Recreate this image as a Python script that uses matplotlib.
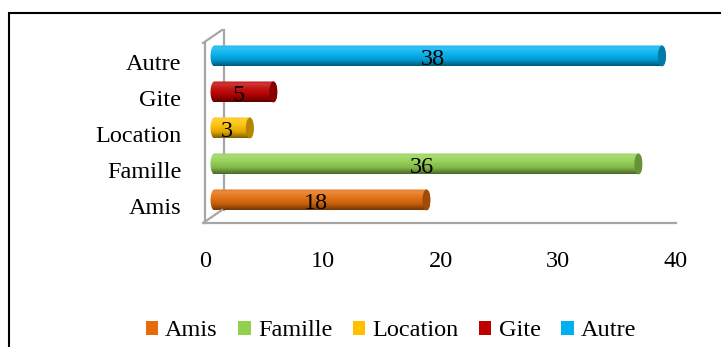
import numpy as np
import matplotlib.pyplot as plt
import matplotlib.transforms as mtransforms
from matplotlib.patches import Ellipse, PathPatch, Rectangle, Patch
from matplotlib.path import Path
from matplotlib.colors import to_rgb

plt.rcParams["font.family"] = ["Liberation Serif", "DejaVu Serif"]

categories = ["Amis", "Famille", "Location", "Gite", "Autre"]
values = [18, 36, 3, 5, 38]
colors = ["#e46c0a", "#92d050", "#ffc000", "#c00000", "#00b0f0"]
xticks = [0, 10, 20, 30, 40]

W, H, DPI = 721, 347, 100
fig = plt.figure(figsize=(W / DPI, H / DPI), dpi=DPI)

# plot area in pixels: x 205..676, y 43..223 from top
ax = fig.add_axes([205 / W, (H - 223) / H, 471 / W, 180 / H])
ax.set_xlim(0, 40)
ax.set_ylim(-0.46, 4.54)
for s in ax.spines.values():
    s.set_visible(False)
ax.set_xticks(xticks)
ax.set_yticks(range(len(categories)))
ax.set_yticklabels(categories)
ax.tick_params(axis="both", length=0, labelsize=17.5)
ax.tick_params(axis="x", pad=20)
ax.tick_params(axis="y", pad=17)


def shift(dx, dy):
    return ax.transData + mtransforms.ScaledTranslation(dx / DPI, dy / DPI, fig.dpi_scale_trans)


grey = "#a6a6a6"
back = shift(19, 13)
# side wall and floor edge
ax.plot([0, 0], [-0.46, 4.54], color=grey, lw=1.6, clip_on=False)
ax.plot([0, 0], [-0.46, 4.54], color=grey, lw=1.6, clip_on=False, transform=back)
ax.plot([0, 40], [-0.46, -0.46], color=grey, lw=1.6, clip_on=False)
fig.add_artist(plt.Line2D([203 / W, 222 / W], [(H - 43) / H, (H - 30) / H],
                          color=grey, lw=1.6))
fig.add_artist(plt.Line2D([203 / W, 222 / W], [(H - 223) / H, (H - 210) / H],
                          color=grey, lw=1.6))


def shade(c, f):
    c = np.array(to_rgb(c))
    if f >= 0:
        return c + (1 - c) * f
    return c * (1 + f)


mid = shift(9.5, 6.5)
a, b = 0.34, 0.29  # cap half-width (data x) and half-height (data y)
stops = np.array([0.0, 0.12, 0.35, 0.7, 1.0])
for i, (v, c) in enumerate(zip(values, colors)):
    levels = [0.05, 0.22, 0.08, -0.12, -0.5]
    cols = np.array([shade(c, f) for f in levels])
    t = np.linspace(0, 1, 64)
    grad = np.stack([np.interp(t, stops, cols[:, k]) for k in range(3)], axis=1)
    img = grad[:, None, :].repeat(2, axis=1)

    th_l = np.linspace(np.pi / 2, 3 * np.pi / 2, 30)
    th_r = np.linspace(-np.pi / 2, np.pi / 2, 30)
    px = np.concatenate([a * np.cos(th_l), v + a * np.cos(th_r)])
    py = np.concatenate([i + b * np.sin(th_l), i + b * np.sin(th_r)])
    outline = Path(np.column_stack([px, py]), closed=False)
    body = PathPatch(outline, facecolor="none", edgecolor="none", transform=mid)
    ax.add_patch(body)
    im = ax.imshow(img, extent=[-a, v + a, i - b, i + b], aspect="auto",
                   transform=mid, interpolation="bilinear", zorder=2)
    im.set_clip_path(body)
    cap = Ellipse((v, i), 2 * a, 2 * b, facecolor=shade(c, -0.3),
                  edgecolor="none", transform=mid, zorder=3)
    ax.add_patch(cap)
    ax.text(v / 2, i, str(v), ha="center", va="center", fontsize=17.5,
            transform=shift(4.5, 2.5), zorder=4)

ax.set_xlim(0, 40)
ax.set_ylim(-0.46, 4.54)

handles = [Patch(facecolor=c, edgecolor="none") for c in colors]
fig.legend(handles, categories, loc="center", ncol=5, frameon=False,
           bbox_to_anchor=(391 / W, 1 - 331 / H), fontsize=17.5,
           handlelength=0.5, handleheight=0.5, handletextpad=0.3,
           columnspacing=0.85, borderpad=0, borderaxespad=0)

# chart border
fig.add_artist(Rectangle((8.5 / W, -0.1), 1.5, 1.1 - 12.5 / H, fill=False,
                         edgecolor="black", lw=1.5, transform=fig.transFigure))

fig.savefig("out.png", dpi=DPI)
